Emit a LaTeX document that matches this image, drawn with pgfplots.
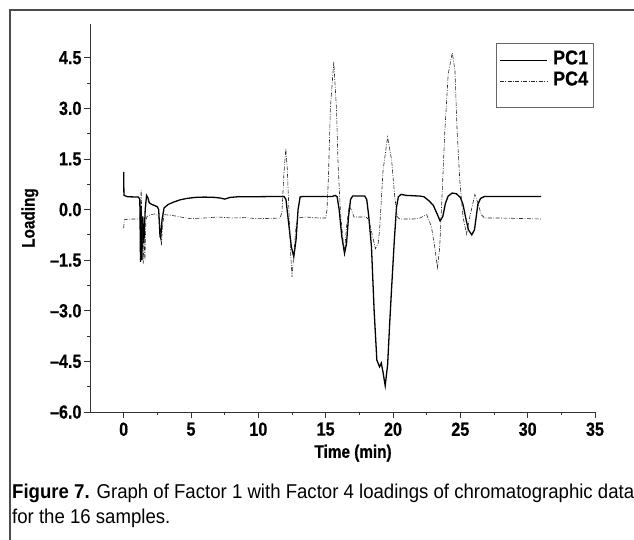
\documentclass[border=0pt]{standalone}
\usepackage{fontspec}
\usepackage{pgfplots}
\pgfplotsset{compat=1.18}
\setmainfont{Liberation Sans}
\newfontfamily\tickfont{Liberation Sans}[FakeStretch=0.85, FakeBold=0.6]
\newfontfamily\legfont{Liberation Sans}[FakeStretch=0.9, FakeBold=0.6]
\newfontfamily\capfont{Liberation Sans}[FakeStretch=0.93]
\begin{document}
\begin{tikzpicture}[x=1pt,y=1pt]
\useasboundingbox (0,0) rectangle (634,539);
\draw[line width=1.6pt, black!70] (10,-5) -- (10,529) -- (640,529);
\begin{axis}[
  at={(90pt,127pt)}, anchor=south west,
  width=505pt, height=388pt, scale only axis,
  xmin=-2.5, xmax=35, ymin=-6, ymax=5.5,
  axis lines*=left,
  axis line style={line width=0.8pt, black!80},
  tick align=outside,
  major tick length=6pt, minor tick length=3pt,
  every tick/.style={line width=0.8pt, black!80},
  xtick={0,5,...,35},
  minor x tick num=1,
  ytick={-6,-4.5,-3,-1.5,0,1.5,3,4.5},
  yticklabels={–6.0,–4.5,–3.0,–1.5,0.0,1.5,3.0,4.5},
  minor y tick num=1,
  /pgf/number format/assume math mode=true,
  tick label style={font=\tickfont\bfseries\fontsize{19}{21}\selectfont},
  xticklabel style={yshift=-1pt},
  yticklabel style={xshift=1pt},
  xlabel={Time (min)}, ylabel={Loading},
  label style={font=\tickfont\bfseries\fontsize{18}{20}\selectfont},
  xlabel style={at={(axis description cs:0.521,-0.106)}, anchor=center},
  ylabel style={at={(axis description cs:-0.119,0.5)}, anchor=center},
  legend style={at={(0.804,0.951)}, anchor=north west, draw=black!60, line width=0.8pt,
    font=\legfont\bfseries\fontsize{20}{22}\selectfont,
    inner xsep=3pt, inner ysep=6pt, row sep=0pt,
    nodes={inner sep=2pt, text height=13pt, text depth=4pt}},
  legend cell align=left,
  legend image code/.code={\draw[#1, line width=0.7pt] (0pt,0pt) -- (47pt,0pt);},
]
\addplot[black, line width=1.3pt] coordinates {
(0,1.12) (0.02,0.42) (0.3,0.38) (1.1,0.37) (1.2,0.3) (1.25,-1.55) (1.3,0.1)
(1.35,-1.5) (1.42,-0.2) (1.5,-1.0) (1.55,-0.5) (1.6,0.0) (1.7,0.42) (1.8,0.35)
(1.9,0.2) (2.1,0.15) (2.3,0.12) (2.5,0.08) (2.6,0.0) (2.7,-0.8) (2.75,-0.85)
(2.85,-0.3) (3.0,0.05) (3.3,0.15) (3.7,0.22) (4.2,0.29) (4.7,0.33) (5.3,0.36)
(6.0,0.37) (6.8,0.36) (7.2,0.34) (7.5,0.31) (7.9,0.36) (8.5,0.38) (9.5,0.38)
(11.9,0.39) (12.05,0.3) (12.25,-0.4) (12.45,-1.1) (12.63,-1.4) (12.8,-0.9)
(12.95,0.0) (13.1,0.37) (13.3,0.39) (15.5,0.39) (15.7,0.42) (15.85,0.38)
(16.0,0.0) (16.2,-0.8) (16.4,-1.3) (16.55,-1.0) (16.7,-0.2) (16.85,0.3)
(17.0,0.40) (17.9,0.40) (18.05,0.3) (18.2,-0.2) (18.4,-1.1) (18.6,-3.0)
(18.8,-4.46) (19.0,-4.66) (19.13,-4.55) (19.25,-4.8) (19.42,-5.22) (19.6,-4.6)
(19.75,-3.4) (19.9,-2.3) (20.1,-0.9) (20.26,0.07) (20.4,0.38) (20.6,0.45)
(21.0,0.42) (22.0,0.40) (22.3,0.38) (22.7,0.25) (23.0,0.12) (23.3,-0.15)
(23.5,-0.34) (23.7,-0.2) (23.9,0.2) (24.1,0.40) (24.4,0.49) (24.7,0.47)
(25.0,0.36) (25.2,0.15) (25.4,-0.25) (25.6,-0.6) (25.85,-0.75) (26.05,-0.6)
(26.3,0.15) (26.5,0.33) (26.8,0.39) (31.0,0.39)
};
\addlegendentry{\hspace{4pt}PC1}
\addplot[black!85, line width=0.6pt, dash pattern=on 4pt off 1.5pt on 0.8pt off 1.5pt] coordinates {
(0,-0.55) (0.05,-0.3) (0.5,-0.28) (1.1,-0.28) (1.2,-0.25) (1.3,0.58) (1.38,-0.8)
(1.45,-1.6) (1.5,-0.9) (1.58,-1.5) (1.65,-0.3) (1.75,-0.2) (2.0,-0.15) (2.3,-0.13)
(2.6,-0.18) (2.72,-0.6) (2.8,-1.08) (2.88,-0.5) (3.0,-0.15) (3.5,-0.17) (4.0,-0.2)
(4.5,-0.24) (5.0,-0.27) (6.0,-0.25) (7.0,-0.22) (8.0,-0.25) (9.0,-0.24) (10.0,-0.27)
(11.0,-0.26) (11.6,-0.25) (11.75,-0.1) (11.9,1.06) (12.04,1.8) (12.15,1.2)
(12.25,0.2) (12.4,-1.3) (12.5,-2.0) (12.62,-1.4) (12.8,-0.5) (12.95,-0.25)
(13.5,-0.22) (14.5,-0.25) (15.0,-0.25) (15.1,0.0) (15.2,0.9) (15.35,3.0)
(15.6,4.38) (15.8,3.0) (15.93,1.26) (16.1,-0.1) (16.3,-0.95) (16.4,-1.25)
(16.55,-0.5) (16.75,0.12) (16.95,-0.05) (17.1,-0.22) (18.0,-0.22) (18.2,-0.3)
(18.4,-0.65) (18.7,-1.16) (18.9,-1.0) (19.0,-0.62) (19.26,1.16) (19.6,2.15)
(19.9,1.46) (20.13,0.37) (20.33,-0.22) (20.5,-0.28) (21.5,-0.28) (22.0,-0.25)
(22.5,-0.15) (22.85,-0.5) (23.1,-1.11) (23.3,-1.72) (23.47,-1.11) (23.67,0.67)
(23.85,2.34) (24.1,4.02) (24.4,4.65) (24.6,4.12) (24.76,2.34) (24.96,0.86)
(25.2,-0.22) (25.46,-0.73) (25.7,-0.22) (26.08,0.45) (26.3,0.2) (26.55,-0.15)
(26.8,-0.25) (28.0,-0.25) (31.0,-0.28)
};
\addlegendentry{\hspace{4pt}PC4}
\addlegendimage{empty legend}
\addlegendentry[text height=0pt, text depth=10pt, inner sep=0pt]{}
\end{axis}
\node[anchor=base west, inner sep=0pt, font=\capfont\fontsize{20}{22}\selectfont] at (12,41)
  {\textbf{Figure 7.} Graph of Factor 1 with Factor 4 loadings of chromatographic data};
\node[anchor=base west, inner sep=0pt, font=\capfont\fontsize{20}{22}\selectfont] at (12,16)
  {for the 16 samples.};
\end{tikzpicture}
\end{document}
